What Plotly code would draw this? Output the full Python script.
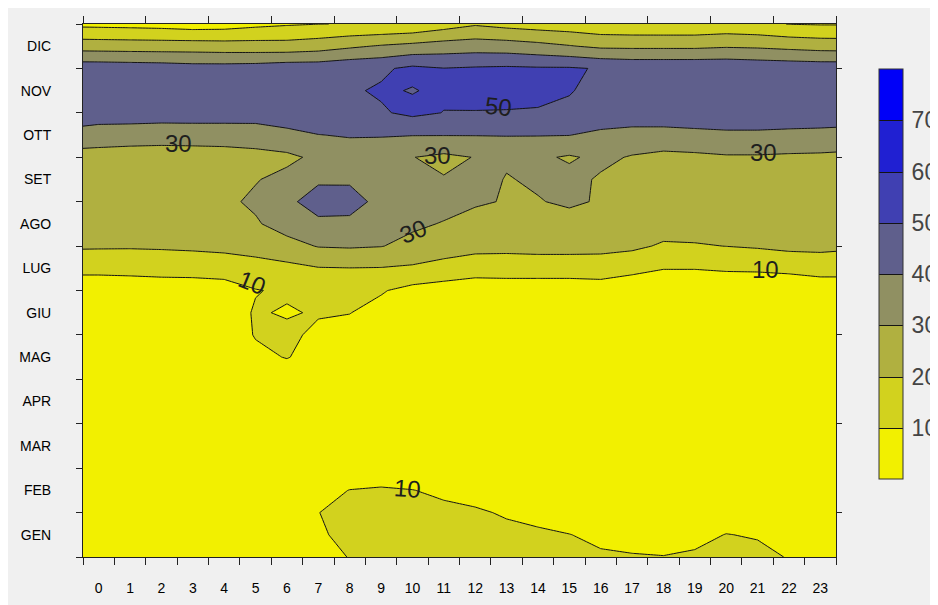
import plotly.graph_objects as go

# ---- data -------------------------------------------------------------
hour_labels = [str(h) for h in range(24)]
hour_centers = list(range(24))
month_labels = ["GEN", "FEB", "MAR", "APR", "MAG", "GIU", "LUG", "AGO", "SET", "OTT", "NOV", "DIC"]
month_centers = [1, 2, 3, 4, 5, 6, 7, 8, 9, 10, 11, 12]

# grid nodes: plot edge, hour centres, plot edge
x_nodes = [-0.5, 0, 1, 2, 3, 4, 5, 6, 7, 8, 9, 10, 11, 12, 13, 14, 15, 16, 17, 18, 19, 20, 21, 22, 23, 23.5]
# month nodes, top (DIC edge) to bottom (GEN edge), half-month steps
y_nodes_top_down = [12.5, 12.0, 11.5, 11.0, 10.5, 10.0, 9.5, 9.0, 8.5, 8.0, 7.5, 7.0, 6.5,
                    6.0, 5.5, 5.0, 4.5, 4.0, 3.5, 3.0, 2.5, 2.0, 1.5, 1.0, 0.5]

z_top_down = [
    [7.5, 7.3, 6.9, 6.3, 5.0, 5.5, 7.6, 9.0, 9.9, 10.2, 10.3, 11.3, 15.2, 18.9, 16.7, 15.2, 14.3, 12.6, 12.1, 12.0, 12.0, 13.0, 12.0, 9.8, 9.3, 9.3],
    [25.7, 25.5, 25.2, 25.0, 25.0, 24.5, 24.3, 24.0, 25.5, 28.4, 30.9, 32.8, 34.6, 35.4, 34.8, 33.0, 30.6, 28.2, 28.0, 28.0, 28.0, 29.0, 28.5, 27.2, 26.0, 25.8],
    [46, 46, 45.5, 45, 44, 44, 44.5, 46, 46, 47.7, 48.5, 52, 50.2, 51, 51.5, 51, 51, 49.3, 48, 48, 48, 48, 47, 46.5, 46, 46],
    [47.5, 47.5, 47.5, 47.3, 47, 47, 47, 47.5, 48, 49, 51, 49.6, 51.5, 52.5, 53, 52.5, 50.3, 48.5, 47.8, 47.5, 47.5, 47.5, 47.5, 47.5, 47.5, 47.5],
    [46, 46, 46, 45.5, 45.5, 45.5, 45.5, 46, 47, 47.5, 49, 52, 49.8, 49.7, 49.5, 49.2, 49, 47.5, 46, 46, 46, 46, 46, 46, 46.5, 46.5],
    [36, 34.5, 34, 33.5, 33.8, 33.8, 34, 37.3, 39.8, 40.7, 40.7, 40.3, 40.3, 40.3, 40.5, 40.4, 40.2, 37.5, 36.5, 36.5, 37.5, 38.3, 38.3, 37.7, 37, 36.5],
    [26, 26.5, 26, 26, 26, 26.5, 27.5, 28, 32, 35, 33.5, 30.2, 28, 30.3, 31, 31.5, 29, 32, 29.3, 27.5, 28, 29, 29, 28.5, 28.3, 28],
    [25.5, 25.5, 25.5, 25.5, 26, 27, 29.5, 32.5, 39, 39.3, 35, 33, 30.5, 33, 29.6, 31, 32.5, 29, 28.5, 27, 27.5, 27.5, 28, 28, 28, 28],
    [25, 25, 25, 25.5, 26, 28.3, 31.5, 38.5, 43, 42, 38.5, 35, 33, 31, 29.5, 29.6, 31.2, 29.3, 27.5, 26, 26, 26, 27, 27, 27, 27],
    [24, 24, 24, 24.5, 25, 27, 29, 34, 38.5, 38.8, 36, 31.5, 29.5, 27, 26, 26, 27, 26.5, 26, 24.5, 24, 24.5, 25.5, 25.5, 25.5, 25],
    [21.2, 21.1, 21, 21.3, 21.9, 22.7, 23.9, 26.7, 30.5, 31, 30.3, 27.5, 24, 23, 22.5, 23, 23, 22.5, 22, 18.8, 19.3, 20.1, 21, 22.5, 22.6, 22],
    [12.6, 12.6, 12.6, 13, 13.2, 14, 16, 17.4, 19.5, 19.8, 19.6, 18.6, 17, 14.5, 15, 15, 15, 15.5, 12.5, 10.3, 10.3, 11, 11.2, 12, 13.5, 13.5],
    [4, 4, 5, 5.5, 5.6, 6, 9.6, 11.2, 12.5, 13, 10.8, 7, 5, 4, 4, 4, 4, 4.5, 4, 4, 4, 4, 4, 4, 4.5, 4.5],
    [4.5, 4.5, 5, 5, 5.5, 5.5, 10.8, 9.2, 10.8, 10.2, 7, 6, 5, 4.5, 4.5, 4.5, 4.5, 4.5, 4.5, 4.5, 4.5, 4.5, 4.5, 4.5, 4.5, 4.5],
    [4.5, 4.5, 4.5, 5, 5, 6, 10.4, 12, 8, 7, 5.5, 5, 4.5, 4.5, 4.5, 4.5, 4.5, 4.5, 4.5, 4.5, 4.5, 4.5, 4.5, 4.5, 4.5, 4.5],
    [4.5, 4.5, 4.5, 4.5, 5, 5.5, 8.5, 10.3, 7.5, 6, 5, 4.5, 4.5, 4.5, 4.5, 4.5, 4.5, 4.5, 4.5, 4.5, 4.5, 4.5, 4.5, 4.5, 4.5, 4.5],
    [4.5, 4.5, 4.5, 4.5, 4.5, 4.5, 5.5, 6, 5.5, 4.5, 4.5, 4.5, 4.5, 4.5, 4.5, 4.5, 4.5, 4.5, 4.5, 4.5, 4.5, 4.5, 4.5, 4.5, 4.5, 4.5],
    [4.5, 4.5, 4.6, 4.6, 4.5, 4.5, 4.6, 4.8, 4.7, 4.6, 4.5, 4.5, 4.5, 4.5, 4.5, 4.5, 4.5, 4.5, 4.5, 4.5, 4.5, 4.5, 4.5, 4.5, 4.5, 4.5],
    [4.8, 4.8, 4.8, 4.8, 4.8, 4.8, 4.8, 4.9, 5, 5, 4.9, 4.8, 4.8, 4.8, 4.8, 4.8, 4.8, 4.8, 4.8, 4.8, 4.8, 4.8, 4.8, 4.8, 4.8, 4.8],
    [5, 5, 5, 5, 5, 5, 5, 5.2, 5.5, 5.8, 5.8, 5.6, 5.4, 5.2, 5, 5, 5, 5, 5, 5, 5, 5, 5, 5, 5, 5],
    [5, 5, 5, 5, 5, 5, 5, 5.5, 6, 7, 7.2, 7, 6.8, 6.5, 6, 5.5, 5, 5, 5, 5, 5, 5, 5, 5, 5, 5],
    [5.5, 5.5, 5.5, 5.5, 5.5, 5.5, 5.5, 5.5, 8.5, 10.1, 10.5, 10.1, 9.2, 8.5, 7.5, 7, 6.5, 6, 5.5, 5.5, 5.5, 5.5, 5.5, 5.5, 5.5, 5.5],
    [5.5, 5.5, 5.5, 5.5, 5.5, 5.5, 5.5, 5.5, 9.9, 12, 12.5, 12, 11, 10.5, 9.6, 8.5, 7.5, 7, 6.5, 6.5, 7, 8, 7.5, 6.5, 5.5, 5.5],
    [5.5, 5.5, 5.5, 5.5, 5.5, 5.5, 5.5, 5.5, 9, 12, 13, 13, 12.5, 12, 11, 10.8, 10.1, 9, 8.5, 8.5, 9, 10.1, 9.7, 8, 6.5, 6],
    [5.5, 5.5, 5.5, 5.5, 5.5, 5.5, 5.5, 5.5, 8, 10.2, 12, 12.5, 12.5, 12.5, 12, 12, 11.5, 10.6, 10.3, 10.1, 10.5, 11.5, 11, 9.8, 7, 6.5],
]

levels = [10, 20, 30, 40, 50, 60, 70]
scale_min, scale_max = 0, 80
band_colors = ["#f2f000", "#d2d21e", "#b0b040", "#909062", "#5f5f8c", "#4040b2", "#2020d2", "#0000f8"]

label_text = ["30", "30", "50", "30", "30", "10", "10", "10"]
label_x = [2.53, 10.81, 12.73, 10.02, 21.20, 4.89, 21.24, 9.83]
label_y = [9.80, 9.53, 10.65, 7.82, 9.60, 6.69, 6.98, 2.05]
label_angle = [0, 0, 6, -22, 0, 22, 0, 4]

# ---- figure -----------------------------------------------------------
y_nodes = y_nodes_top_down[::-1]
z = z_top_down[::-1]

n = len(band_colors) - 1
colorscale = [[i / n, c] for i, c in enumerate(band_colors)]

fig = go.Figure()
fig.add_trace(go.Contour(
    x=x_nodes, y=y_nodes, z=z,
    zmin=scale_min, zmax=scale_max, zauto=False,
    contours=dict(start=levels[0], end=levels[-1], size=levels[1] - levels[0],
                  coloring="fill", showlabels=False),
    line=dict(color="#141414", width=1, smoothing=0),
    colorscale=colorscale,
    hoverinfo="skip",
    colorbar=dict(
        x=(879 - 83) / 753, xanchor="left", xpad=0,
        y=(557 - 274) / 533, yanchor="middle", ypad=0,
        lenmode="pixels", len=410, thickness=24,
        outlinewidth=1, outlinecolor="#333333",
        tickvals=levels, ticks="outside", ticklen=4, tickcolor="rgba(0,0,0,0)",
        tickfont=dict(family="Liberation Sans", size=23, color="#444444"),
    ),
))
# empty helper trace so that the top / right tick axes are drawn
fig.add_trace(go.Scatter(x=[], y=[], xaxis="x2", yaxis="y2", showlegend=False, hoverinfo="skip"))

tick_font = dict(family="Liberation Sans", size=14, color="#000000")

# the page adds an 8 px white border, so the figure is 8 px smaller than the window
fig.update_layout(
    width=930, height=597,
    margin=dict(l=75, r=102, t=16, b=48, pad=0, autoexpand=False),
    paper_bgcolor="#f0f0f0",
    plot_bgcolor="#f0f0f0",
    showlegend=False,
    xaxis=dict(
        range=[-0.5, 23.5], tickmode="array", tickvals=hour_centers, ticktext=hour_labels,
        ticks="", showline=True, linecolor="#222222", linewidth=1, mirror=True,
        showgrid=False, zeroline=False, tickfont=tick_font, ticklabelstandoff=18,
        minor=dict(tickmode="linear", tick0=-0.5, dtick=1, ticks="outside", ticklen=7,
                   tickcolor="#222222", showgrid=False),
    ),
    yaxis=dict(
        range=[0.5, 12.5], tickmode="array", tickvals=month_centers, ticktext=month_labels,
        ticks="", showline=True, linecolor="#222222", linewidth=1, mirror=True,
        showgrid=False, zeroline=False, tickfont=tick_font, ticklabelstandoff=28,
        minor=dict(tickmode="linear", tick0=0.5, dtick=1, ticks="outside", ticklen=6,
                   tickcolor="#222222", showgrid=False),
    ),
    xaxis2=dict(
        overlaying="x", side="top", anchor="y2", range=[-0.5, 23.5],
        tickmode="linear", tick0=-0.5, dtick=2, ticks="outside", ticklen=7,
        tickcolor="#222222", showticklabels=False, showgrid=False, zeroline=False, showline=False,
    ),
    yaxis2=dict(
        overlaying="y", side="right", anchor="x2", range=[0.5, 12.5],
        tickmode="linear", tick0=1.5, dtick=2, ticks="outside", ticklen=5,
        tickcolor="#222222", showticklabels=False, showgrid=False, zeroline=False, showline=False,
    ),
)

for t, lx, ly, ang in zip(label_text, label_x, label_y, label_angle):
    fig.add_annotation(x=lx, y=ly, xref="x", yref="y", text=t, showarrow=False,
                       textangle=ang,
                       font=dict(family="Liberation Sans", size=24, color="#1e1e1e"))

fig.write_html("out.html")
